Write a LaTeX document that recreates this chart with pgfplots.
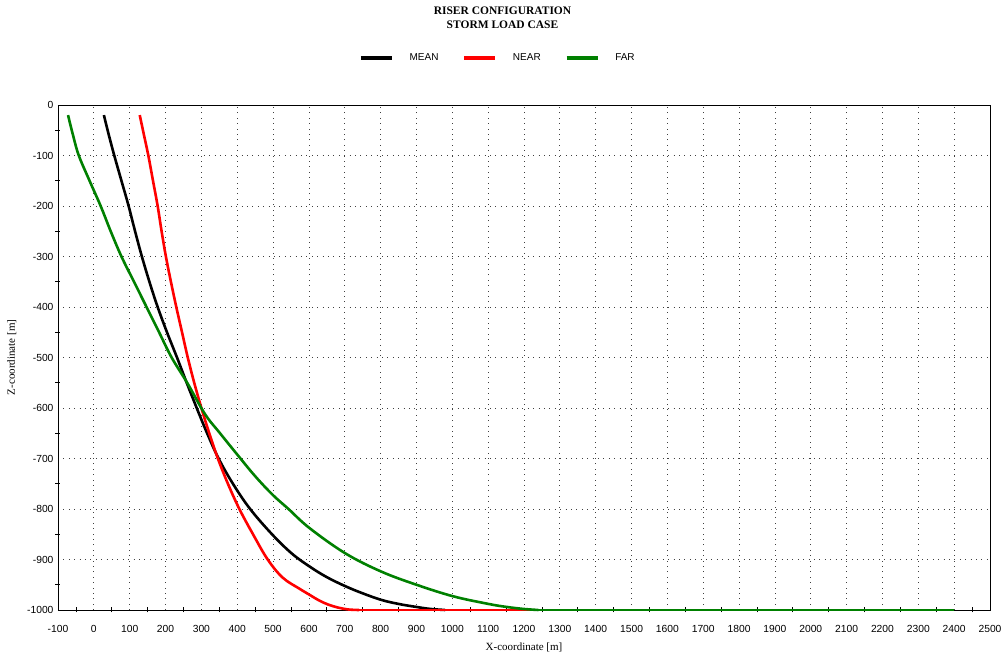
\documentclass[border=0pt]{standalone}
\usepackage{fontspec}
\setmainfont{Liberation Sans}
\newfontfamily\serif{Liberation Serif}
\usepackage{pgfplots}
\pgfplotsset{compat=1.18}
\definecolor{fargreen}{RGB}{0,128,0}
\begin{document}
\begin{tikzpicture}[x=1pt,y=1pt]
\useasboundingbox (-58,-45) rectangle (947,610);
\node[font=\serif\bfseries\fontsize{11.5}{13}\selectfont, inner sep=0pt] at (444.5,599) {RISER CONFIGURATION};
\node[font=\serif\bfseries\fontsize{11.5}{13}\selectfont, inner sep=0pt] at (444.5,585) {STORM LOAD CASE};
\begin{axis}[
  at={(0,0)}, anchor=south west,
  scale only axis, width=932pt, height=505pt,
  xmin=-100, xmax=2500, ymin=-1000, ymax=0,
  clip=false,
  xtick={-100,0,...,2500}, ytick={-1000,-900,...,0},
  minor x tick num=1, minor y tick num=1,
  xtick pos=left, ytick pos=left,
  tick align=center,
  major tick length=0pt, minor tick length=5pt,
  every tick/.style={black, line width=0.8pt},
  grid=major,
  major grid style={black!75, line width=0.7pt, dash pattern=on 0.8pt off 4.6pt},
  axis line style={black, line width=0.9pt},
  font=\fontsize{10.3}{12}\selectfont,
  /pgf/number format/assume math mode=true,
  /pgf/number format/1000 sep={},
  xticklabel style={yshift=-12pt},
  yticklabel style={xshift=-1pt},
  xlabel={X-coordinate [m]},
  ylabel={Z-coordinate [m]},
  xlabel style={font=\serif\fontsize{11}{13}\selectfont, yshift=-3pt},
  ylabel style={font=\serif\fontsize{11}{13}\selectfont, yshift=4pt},
  legend columns=3,
  legend style={at={(0.472,1.093)}, anchor=center, draw=none, fill=none,
    font=\fontsize{10}{12}\selectfont,
    /tikz/every odd column/.append style={column sep=14pt},
    /tikz/every even column/.append style={column sep=22pt}},
  legend image code/.code={\draw[#1, line width=3.5pt] (0pt,0pt) -- (31pt,0pt);},
  every axis plot/.append style={line width=2.6pt, line join=round, line cap=butt},
]
\addplot[black, smooth, tension=0.6] coordinates {
(28,-20) (42,-60) (57,-100) (77,-150) (97,-200) (115,-250) (134,-300)
(155,-350) (178,-400) (204,-450) (232,-500) (259,-550) (287,-600)
(316,-650) (348,-700) (388,-750) (436,-800) (497,-850) (552,-888)
(602,-914) (650,-935) (702,-953) (750,-967) (802,-980) (850,-988)
(900,-994) (940,-998) (980,-1000)};
\addlegendentry{MEAN}
\addplot[black, forget plot] coordinates {(980,-1000) (2400,-1000)};
\addplot[red, smooth, tension=0.6] coordinates {
(128,-20) (140,-60) (152,-100) (165,-150) (178,-200) (189,-250) (201,-300)
(215,-350) (230,-400) (246,-450) (262,-500) (280,-550) (300,-600)
(322,-650) (346,-700) (374,-750) (406,-800) (444,-850) (485,-900)
(527,-936) (574,-958) (602,-970) (628,-981) (653,-989) (680,-995)
(710,-999) (740,-1000)};
\addlegendentry{NEAR}
\addplot[red, forget plot] coordinates {(740,-1000) (2400,-1000)};
\addplot[fargreen, smooth, tension=0.6] coordinates {
(-72,-20) (-58,-60) (-42,-100) (-12,-150) (19,-200) (47,-250) (77,-300)
(112,-350) (147,-400) (182,-450) (217,-500) (262,-552) (310,-612)
(352,-650) (401,-693) (450,-735) (499,-772) (543,-800) (602,-838)
(702,-888) (802,-924) (900,-950) (1003,-973) (1101,-988) (1152,-994)
(1200,-998) (1240,-1000)};
\addlegendentry{FAR}
\addplot[fargreen, forget plot] coordinates {(1240,-1000) (2400,-1000)};
\end{axis}
\end{tikzpicture}
\end{document}
